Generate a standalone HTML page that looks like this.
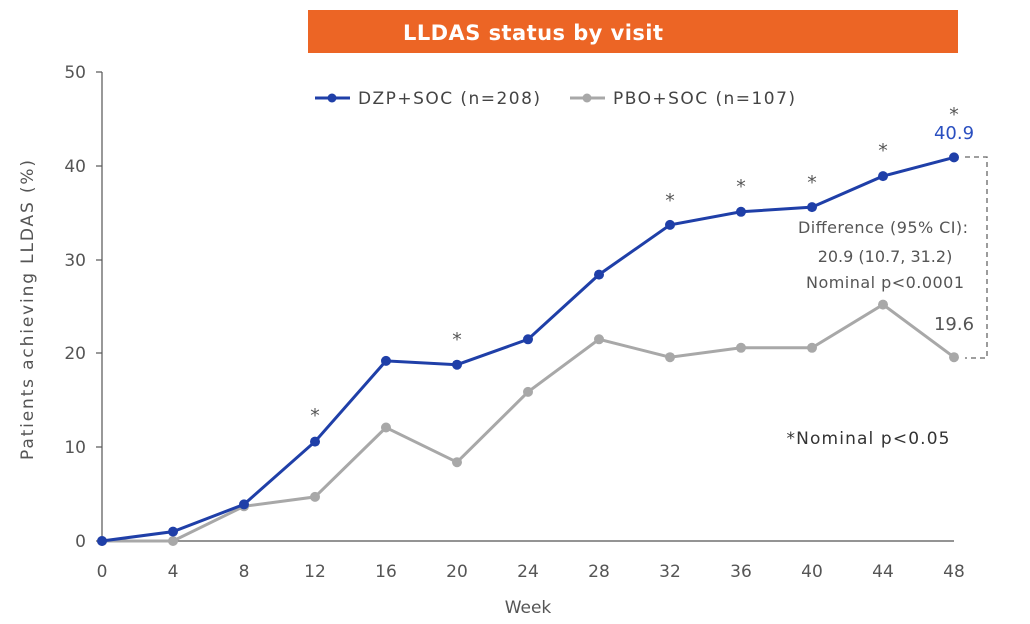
<!DOCTYPE html>
<html><head><style>
body{margin:0;background:#fff;}
svg{display:block;font-family:"DejaVu Sans","Liberation Sans",sans-serif;}
</style></head><body>
<svg width="1030" height="624" viewBox="0 0 1030 624">
<rect x="308" y="10" width="650" height="43" fill="#ec6525"/>
<text x="533" y="40" fill="#fff" font-size="21" font-weight="bold" text-anchor="middle" textLength="260">LLDAS status by visit</text>
<g stroke="#555" stroke-width="1.2" fill="none">
<line x1="102" y1="72" x2="102" y2="541"/>
<line x1="102" y1="541" x2="954" y2="541"/>
<line x1="96" y1="72" x2="102" y2="72"/><line x1="96" y1="166" x2="102" y2="166"/><line x1="96" y1="260" x2="102" y2="260"/><line x1="96" y1="353" x2="102" y2="353"/><line x1="96" y1="447" x2="102" y2="447"/><line x1="96" y1="541" x2="102" y2="541"/>
</g>
<g fill="#555" font-size="17" text-anchor="end">
<text x="86" y="78">50</text><text x="86" y="172">40</text><text x="86" y="266">30</text><text x="86" y="359">20</text><text x="86" y="453">10</text><text x="86" y="547">0</text>
</g>
<g fill="#555" font-size="17" text-anchor="middle">
<text x="102" y="577">0</text><text x="173" y="577">4</text><text x="244" y="577">8</text><text x="315" y="577">12</text><text x="386" y="577">16</text><text x="457" y="577">20</text><text x="528" y="577">24</text><text x="599" y="577">28</text><text x="670" y="577">32</text><text x="741" y="577">36</text><text x="812" y="577">40</text><text x="883" y="577">44</text><text x="954" y="577">48</text>
<text x="528" y="613">Week</text>
</g>
<text transform="translate(33,310) rotate(-90)" fill="#555" font-size="17" text-anchor="middle" textLength="300">Patients achieving LLDAS (%)</text>
<g>
<line x1="315" y1="98" x2="350" y2="98" stroke="#1f3fa8" stroke-width="3"/><circle cx="332" cy="98" r="4.5" fill="#1f3fa8"/>
<text x="358" y="104" fill="#444" font-size="17" textLength="182">DZP+SOC (n=208)</text>
<line x1="570" y1="98" x2="605" y2="98" stroke="#a8a8a8" stroke-width="3"/><circle cx="587" cy="98" r="4.5" fill="#a8a8a8"/>
<text x="613" y="104" fill="#444" font-size="17" textLength="182">PBO+SOC (n=107)</text>
</g>
<polyline fill="none" stroke="#a8a8a8" stroke-width="3" points="102,541 173,541 244,506.3 315,496.9 386,427.5 457,462.2 528,391.9 599,339.3 670,357.2 741,347.8 812,347.8 883,304.6 954,357.2"/>
<g fill="#a8a8a8"><circle cx="102" cy="541" r="5"/><circle cx="173" cy="541" r="5"/><circle cx="244" cy="506.3" r="5"/><circle cx="315" cy="496.9" r="5"/><circle cx="386" cy="427.5" r="5"/><circle cx="457" cy="462.2" r="5"/><circle cx="528" cy="391.9" r="5"/><circle cx="599" cy="339.3" r="5"/><circle cx="670" cy="357.2" r="5"/><circle cx="741" cy="347.8" r="5"/><circle cx="812" cy="347.8" r="5"/><circle cx="883" cy="304.6" r="5"/><circle cx="954" cy="357.2" r="5"/></g>
<polyline fill="none" stroke="#1f3fa8" stroke-width="3" points="102,541 173,531.6 244,504.4 315,441.6 386,360.9 457,364.7 528,339.3 599,274.6 670,224.9 741,211.8 812,207.1 883,176.1 954,157.4"/>
<g fill="#1f3fa8"><circle cx="102" cy="541" r="5"/><circle cx="173" cy="531.6" r="5"/><circle cx="244" cy="504.4" r="5"/><circle cx="315" cy="441.6" r="5"/><circle cx="386" cy="360.9" r="5"/><circle cx="457" cy="364.7" r="5"/><circle cx="528" cy="339.3" r="5"/><circle cx="599" cy="274.6" r="5"/><circle cx="670" cy="224.9" r="5"/><circle cx="741" cy="211.8" r="5"/><circle cx="812" cy="207.1" r="5"/><circle cx="883" cy="176.1" r="5"/><circle cx="954" cy="157.4" r="5"/></g>
<g fill="#555" font-size="19" text-anchor="middle">
<text x="315" y="422">*</text><text x="457" y="346">*</text><text x="670" y="207">*</text><text x="741" y="193">*</text><text x="812" y="189">*</text><text x="883" y="157">*</text><text x="954" y="121">*</text>
</g>
<text x="954" y="139" fill="#2a4fc0" font-size="18" text-anchor="middle">40.9</text>
<polyline fill="none" stroke="#666" stroke-width="1.3" stroke-dasharray="5,4" points="965,157 987,157 987,358 965,358"/>
<g fill="#555" font-size="16" text-anchor="middle">
<text x="883" y="233" textLength="170">Difference (95% CI):</text>
<text x="885" y="262">20.9 (10.7, 31.2)</text>
<text x="885" y="288" textLength="158">Nominal p&lt;0.0001</text>
<text x="954" y="330" font-size="18">19.6</text>
<text x="868" y="444" fill="#333" font-size="17" textLength="163">*Nominal p&lt;0.05</text>
</g>
</svg>
</body></html>
